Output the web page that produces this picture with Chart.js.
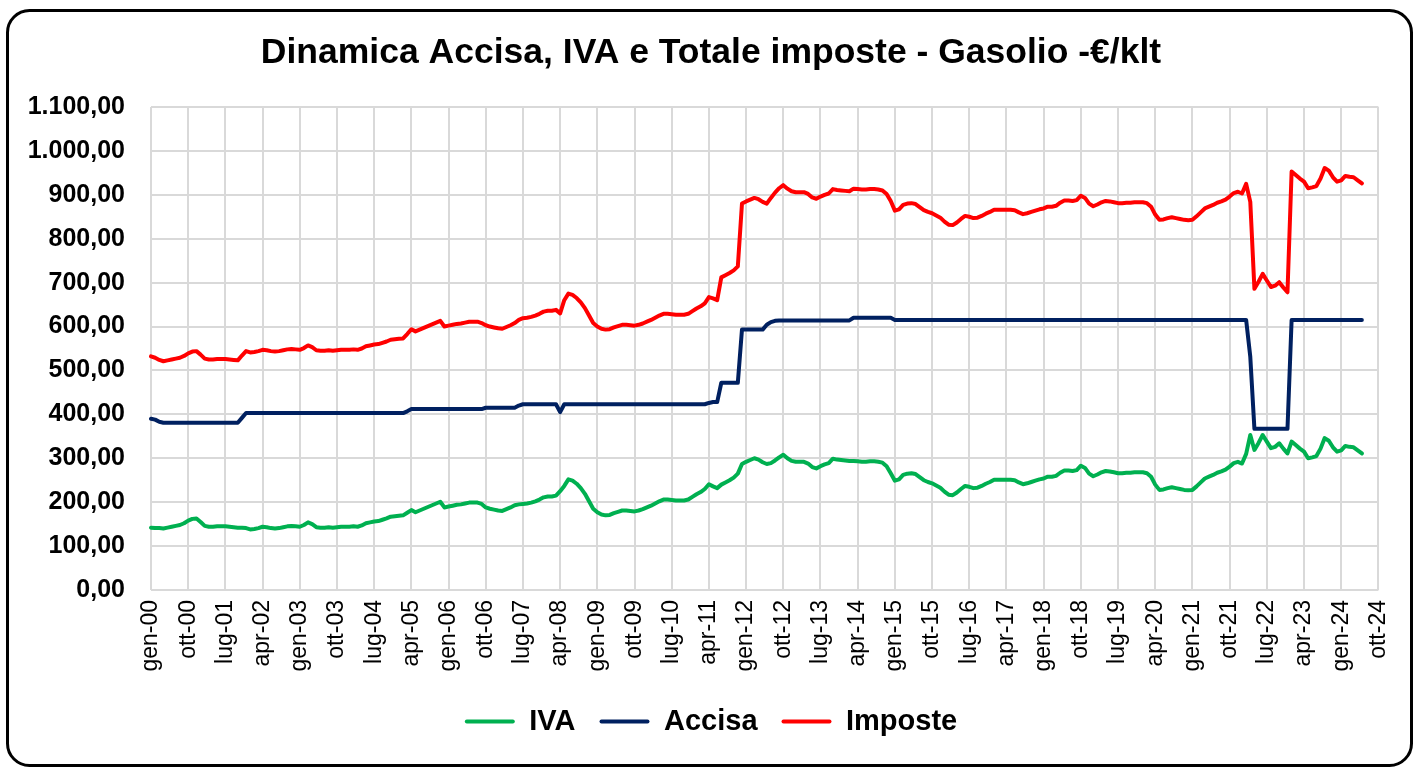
<!DOCTYPE html>
<html><head><meta charset="utf-8">
<script src="https://cdn.jsdelivr.net/npm/chart.js@4.4.1/dist/chart.umd.min.js"></script>
<style>html,body{margin:0;padding:0;background:#fff;overflow:hidden}canvas{display:block}</style>
</head><body>
<canvas id="c" width="1416" height="771"></canvas>
<script>
const monthNames = ['gen','feb','mar','apr','mag','giu','lug','ago','set','ott','nov','dic'];
const firstYear = 2000;
const lastCategoryIndex = 297; // ott-24
const categories = [];
for (let i = 0; i <= lastCategoryIndex; i++) {
  categories.push(monthNames[i % 12] + '-' + String((firstYear + Math.floor(i / 12)) % 100).padStart(2, '0'));
}
const yTickLabels = ['0,00','100,00','200,00','300,00','400,00','500,00','600,00','700,00','800,00','900,00','1.000,00','1.100,00'];

const iva = [
142,141,141,140,142,144,146,148,152,158,162,163,
155,146,144,144,145,145,145,144,143,142,142,141,
138,139,141,144,143,141,140,141,143,145,146,145,
144,148,154,150,143,142,142,143,142,143,144,144,
144,145,144,147,152,154,156,157,160,163,167,168,
169,170,176,182,177,181,185,189,193,197,201,188,
190,192,194,195,197,199,199,199,196,188,185,183,
181,180,184,188,193,195,196,197,199,202,206,211,
213,213,215,225,237,252,249,242,232,219,202,185,
177,172,170,171,175,178,181,181,180,179,181,184,
188,192,197,202,206,206,205,204,204,204,206,212,
218,223,230,241,236,232,240,245,250,256,265,287,
292,296,300,297,291,287,289,295,302,308,300,294,
292,292,292,288,280,277,282,286,289,299,297,296,
295,294,294,293,292,292,293,293,292,290,282,266,
249,252,262,265,266,264,257,250,246,243,238,233,
224,217,216,222,230,237,235,232,233,237,242,246,
251,251,251,251,251,250,245,241,243,246,249,252,
254,258,258,260,267,272,272,271,273,283,278,265,
259,263,268,271,270,268,266,266,267,267,268,268,
268,266,258,240,228,229,232,234,232,230,228,227,
228,236,245,254,258,262,267,270,274,281,289,292,
288,310,353,319,335,353,338,323,326,334,322,311,
338,330,322,315,300,302,305,322,346,340,325,315,
318,328,326,325,318,311
];

const accisa = [
390,388,383,381,381,381,381,381,381,381,381,381,
381,381,381,381,381,381,381,381,381,381,392,403,
403,403,403,403,403,403,403,403,403,403,403,403,
403,403,403,403,403,403,403,403,403,403,403,403,
403,403,403,403,403,403,403,403,403,403,403,403,
403,403,407,412,412,412,412,412,412,412,412,412,
412,412,412,412,412,412,412,412,412,415,415,415,
415,415,415,415,415,420,423,423,423,423,423,423,
423,423,423,405,423,423,423,423,423,423,423,423,
423,423,423,423,423,423,423,423,423,423,423,423,
423,423,423,423,423,423,423,423,423,423,423,423,
423,423,423,426,428,428,472,472,472,472,472,593,
593,593,593,593,593,604,610,613,614,614,614,614,
614,614,614,614,614,614,614,614,614,614,614,614,
614,614,620,620,620,620,620,620,620,620,620,620,
615,615,615,615,615,615,615,615,615,615,615,615,
615,615,615,615,615,615,615,615,615,615,615,615,
615,615,615,615,615,615,615,615,615,615,615,615,
615,615,615,615,615,615,615,615,615,615,615,615,
615,615,615,615,615,615,615,615,615,615,615,615,
615,615,615,615,615,615,615,615,615,615,615,615,
615,615,615,615,615,615,615,615,615,615,615,615,
615,615,531,367,367,367,367,367,367,367,367,367,
615,615,615,615,615,615,615,615,615,615,615,615,
615,615,615,615,615,615
];

const imposte = [
532,529,524,521,523,525,527,529,533,539,543,544,
536,527,525,525,526,526,526,525,524,523,534,544,
541,542,544,547,546,544,543,544,546,548,549,548,
547,551,557,553,546,545,545,546,545,546,547,547,
547,548,547,550,555,557,559,560,563,566,570,571,
572,573,583,594,589,593,597,601,605,609,613,600,
602,604,606,607,609,611,611,611,608,603,600,598,
596,595,599,603,608,615,619,620,622,625,629,634,
636,636,638,630,660,675,672,665,655,642,625,608,
600,595,593,594,598,601,604,604,603,602,604,607,
611,615,620,625,629,629,628,627,627,627,629,635,
641,646,653,667,664,660,712,717,722,728,737,880,
885,889,893,890,884,880,893,905,915,922,914,908,
906,906,906,902,894,891,896,900,903,913,911,910,
909,908,914,913,912,912,913,913,912,910,902,886,
864,867,877,880,881,879,872,865,861,858,853,848,
839,832,831,837,845,852,850,847,848,852,857,861,
866,866,866,866,866,865,860,856,858,861,864,867,
869,873,873,875,882,887,887,886,888,898,893,880,
874,878,883,886,885,883,881,881,882,882,883,883,
883,881,873,855,843,844,847,849,847,845,843,842,
843,851,860,869,873,877,882,885,889,896,904,907,
903,925,884,686,702,720,705,690,693,701,689,678,
953,945,937,930,915,917,920,937,961,955,940,930,
933,943,941,940,933,926
];

const FONT = "'Liberation Sans', Arial, Helvetica, sans-serif";
const GRID = '#d9d9d9';

const framePlugin = {
  id: 'frame',
  beforeDraw(chart) {
    const ctx = chart.ctx;
    ctx.save();
    ctx.fillStyle = '#ffffff';
    ctx.fillRect(0, 0, chart.width, chart.height);
    ctx.restore();
  },
  afterDraw(chart) {
    const ctx = chart.ctx;
    ctx.save();
    ctx.strokeStyle = '#000000';
    ctx.lineWidth = 3;
    ctx.beginPath();
    ctx.roundRect(7.5, 10.5, 1404, 755, 22);
    ctx.stroke();
    ctx.restore();
  }
};

function lineDs(label, data, color) {
  return {
    label, data,
    borderColor: color, backgroundColor: color,
    borderWidth: 4, pointRadius: 0, pointHoverRadius: 0,
    tension: 0, borderJoinStyle: 'round', borderCapStyle: 'round',
    fill: false, spanGaps: false
  };
}

new Chart(document.getElementById('c'), {
  type: 'line',
  data: {
    labels: categories,
    datasets: [
      lineDs('IVA', iva, '#00b050'),
      lineDs('Accisa', accisa, '#002060'),
      lineDs('Imposte', imposte, '#ff0000')
    ]
  },
  options: {
    responsive: false,
    devicePixelRatio: 1,
    animation: false,
    layout: { padding: { top: 10, right: 0, bottom: 25, left: 6 } },
    plugins: {
      title: {
        display: true,
        text: 'Dinamica Accisa, IVA e Totale imposte - Gasolio -€/klt',
        color: '#000',
        font: { family: FONT, size: 35.5, weight: 'bold' },
        padding: { top: 22, bottom: 32.4 }
      },
      legend: {
        position: 'bottom',
        labels: {
          boxWidth: 50, boxHeight: 4, padding: 24,
          color: '#000',
          font: { family: FONT, size: 29, weight: 'bold' },
          generateLabels: (chart) => Chart.defaults.plugins.legend.labels.generateLabels(chart)
            .map(l => Object.assign({}, l, { lineWidth: 0, fillStyle: l.strokeStyle, borderRadius: 2 }))
        }
      },
      tooltip: { enabled: false }
    },
    scales: {
      x: {
        type: 'category',
        offset: false,
        afterBuildTicks: (axis) => { axis.ticks = axis.ticks.filter(t => t.value % 9 === 0); },
        afterFit: (s) => { s.height = 93; },
        ticks: {
          autoSkip: false, minRotation: 90, maxRotation: 90, padding: 10,
          color: '#000', font: { family: FONT, size: 23 }
        },
        grid: { color: GRID, lineWidth: 2, drawTicks: false },
        border: { display: false }
      },
      y: {
        min: 0, max: 1100,
        afterFit: (s) => { s.width = 145; },
        ticks: {
          stepSize: 100, padding: 26, color: '#000',
          font: { family: FONT, size: 25, weight: 'bold' },
          callback: (v) => yTickLabels[Math.round(v / 100)]
        },
        grid: { color: GRID, lineWidth: 2, drawTicks: false },
        border: { display: false }
      },
      yRight: {
        position: 'right',
        display: true,
        afterFit: (s) => { s.width = 32; },
        ticks: { display: false },
        grid: { display: false, drawTicks: false },
        border: { display: false }
      }
    }
  },
  plugins: [framePlugin]
});
</script>
</body></html>
